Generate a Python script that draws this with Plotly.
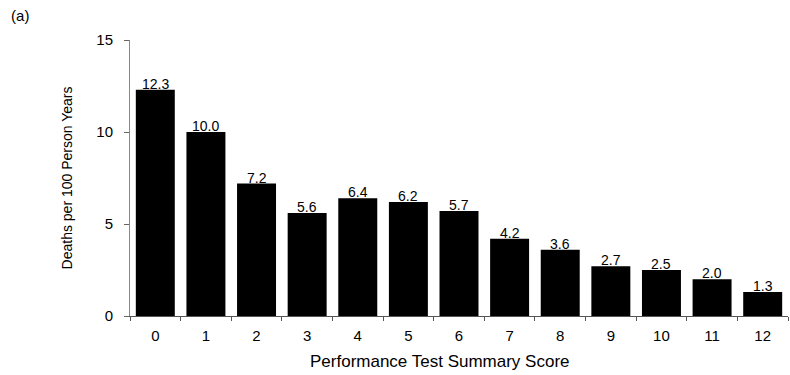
import plotly.graph_objects as go

# Mortality rate by performance test summary score
scores = ["0", "1", "2", "3", "4", "5", "6", "7", "8", "9", "10", "11", "12"]
deaths_per_100py = [12.3, 10.0, 7.2, 5.6, 6.4, 6.2, 5.7, 4.2, 3.6, 2.7, 2.5, 2.0, 1.3]
y_ticks = [0, 5, 10, 15]

FONT = "Liberation Sans, Arial, Helvetica, sans-serif"

fig = go.Figure(
    go.Bar(
        x=scores,
        y=deaths_per_100py,
        marker=dict(color="black", line=dict(width=0)),
        width=0.77,
        hoverinfo="x+y",
    )
)

# value labels sitting on top of each bar
for s, v in zip(scores, deaths_per_100py):
    fig.add_annotation(
        x=s, y=v, text=f"{v:.1f}", showarrow=False,
        xref="x", yref="y", yanchor="bottom", yshift=-4,
        font=dict(family=FONT, size=14, color="black"),
    )

# x-axis caption
fig.add_annotation(
    text="Performance Test Summary Score", showarrow=False,
    xref="paper", yref="paper", x=0.471, y=-0.208,
    xanchor="center", yanchor="bottom",
    font=dict(family=FONT, size=17, color="black"),
)

fig.update_layout(
    width=790, height=375,
    margin=dict(l=130, r=2, t=40, b=59),
    paper_bgcolor="white", plot_bgcolor="white",
    showlegend=False,
    font=dict(family=FONT, color="black"),
    title=dict(text="(a)", x=0.014, xanchor="left", xref="container",
               y=1 - 16 / 375, yanchor="middle", yref="container",
               font=dict(family=FONT, size=15, color="black")),
)

fig.update_xaxes(
    type="category",
    tickson="boundaries",
    ticks="outside", ticklen=4, tickcolor="#555", tickwidth=1,
    showline=True, linecolor="#555", linewidth=1,
    showgrid=False, zeroline=False,
    tickfont=dict(family=FONT, size=15, color="black"),
    ticklabelstandoff=6,
)

fig.update_yaxes(
    range=[0, 15],
    tickmode="array", tickvals=y_ticks, ticktext=[str(t) for t in y_ticks],
    ticks="outside", ticklen=5, tickcolor="#666", tickwidth=1,
    showline=True, linecolor="#888", linewidth=1,
    showgrid=False, zeroline=False,
    tickfont=dict(family=FONT, size=15, color="black"),
    ticklabelstandoff=8,
    title=dict(text="Deaths per 100 Person Years",
               font=dict(family=FONT, size=14, color="black"), standoff=20),
)

fig.write_html("out.html")
